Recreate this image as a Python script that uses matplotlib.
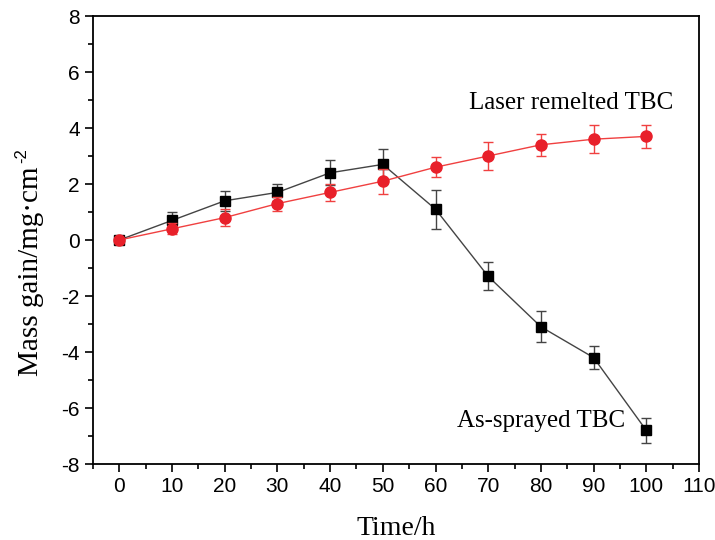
import matplotlib
matplotlib.use('Agg')
import matplotlib.pyplot as plt
from matplotlib.ticker import MultipleLocator

time_h = [0, 10, 20, 30, 40, 50, 60, 70, 80, 90, 100]
as_sprayed = [0, 0.7, 1.4, 1.7, 2.4, 2.7, 1.1, -1.3, -3.1, -4.2, -6.8]
as_sprayed_err = [0.05, 0.3, 0.35, 0.3, 0.45, 0.55, 0.7, 0.5, 0.55, 0.4, 0.45]
laser = [0, 0.4, 0.8, 1.3, 1.7, 2.1, 2.6, 3.0, 3.4, 3.6, 3.7]
laser_err = [0.05, 0.2, 0.3, 0.25, 0.3, 0.45, 0.35, 0.5, 0.4, 0.5, 0.4]

plt.rcParams['axes.unicode_minus'] = False

fig = plt.figure(figsize=(7.15, 5.4), dpi=100)
ax = fig.add_axes([93/715, 1-464/540, (699-93)/715, (464-16)/540])

ax.errorbar(time_h, as_sprayed, yerr=as_sprayed_err, color='#444444', lw=1.0,
            marker='s', markersize=7, markerfacecolor='k', markeredgecolor='k',
            ecolor='#444444', elinewidth=1.0, capsize=3.5, zorder=3)
ax.errorbar(time_h, laser, yerr=laser_err, color='#f04040', lw=1.0,
            marker='o', markersize=8, markerfacecolor='#e8202a', markeredgecolor='#e8202a',
            ecolor='#f04040', elinewidth=1.0, capsize=3.5, zorder=4)

ax.set_xlim(-5, 110)
ax.set_ylim(-8, 8)
ax.xaxis.set_major_locator(MultipleLocator(10))
ax.xaxis.set_minor_locator(MultipleLocator(5))
ax.yaxis.set_major_locator(MultipleLocator(2))
ax.yaxis.set_minor_locator(MultipleLocator(1))
ax.tick_params(which='both', direction='out', width=1.2)
ax.tick_params(which='major', length=6, labelsize=15)
ax.tick_params(which='minor', length=3.5)
for lab in ax.get_xticklabels() + ax.get_yticklabels():
    lab.set_family('Liberation Sans')
for s in ax.spines.values():
    s.set_linewidth(1.3)

ax.set_xlabel('Time/h', family='Liberation Serif', fontsize=20, labelpad=14)

# y label with a hyphen superscript in sans, as in the original figure
fig.text(31/715, 1-271/540, 'Mass gain/mg\u00b7cm', family='Liberation Serif',
         fontsize=21, rotation=90, ha='center', va='center')
fig.text(22/715, 1-156/540, '-2', family='Liberation Sans', fontsize=12,
         rotation=90, ha='center', va='center')

ax.text(85.8, 4.9, 'Laser remelted TBC', family='Liberation Serif', fontsize=18,
        ha='center', va='center')
ax.text(80, -6.45, 'As-sprayed TBC', family='Liberation Serif', fontsize=18,
        ha='center', va='center')

fig.savefig('out.png', dpi=100)
